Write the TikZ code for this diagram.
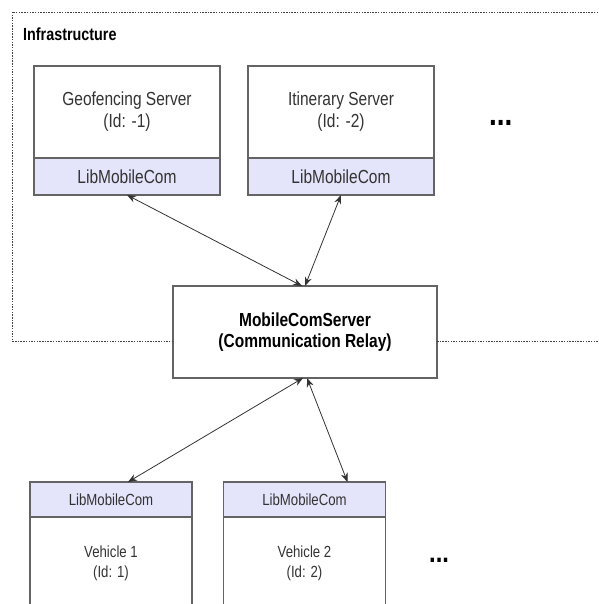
\documentclass[tikz,border=0pt]{standalone}
\usepackage{fontspec}
\setmainfont{Liberation Sans}[FakeStretch=0.82]
\usetikzlibrary{positioning,arrows.meta}
\definecolor{libfill}{RGB}{228,228,250}
\definecolor{boxline}{RGB}{100,100,100}

\begin{document}
\begin{tikzpicture}[x=1pt,y=-1pt,
  srvbody/.style={draw=boxline, line width=1.1pt, fill=white, outer sep=0pt, inner sep=0pt, minimum width=186pt, minimum height=92pt, align=center, text=black!80, font=\fontsize{18.9}{22}\selectfont},
  srvlib/.style={draw=boxline, line width=1.1pt, fill=libfill, outer sep=0pt, inner sep=0pt, minimum width=186pt, minimum height=37pt, text=black!80, font=\fontsize{18.9}{22}\selectfont},
  vehbody/.style={draw=boxline, line width=1.1pt, fill=white, outer sep=0pt, inner sep=0pt, minimum width=162pt, minimum height=92pt, align=center, text=black!80, font=\fontsize{16.1}{20}\selectfont},
  vehlib/.style={draw=boxline, line width=1.1pt, fill=libfill, outer sep=0pt, inner sep=0pt, minimum width=162pt, minimum height=35pt, text=black!80, font=\fontsize{16.1}{20}\selectfont},
  relay/.style={draw=boxline, line width=1.1pt, fill=white, outer sep=0pt, inner sep=0pt, minimum width=264pt, minimum height=92pt, align=center, font=\fontsize{18.9}{21}\bfseries\selectfont},
  link/.style={{Stealth[length=9pt,width=7pt]}-{Stealth[length=9pt,width=7pt]}, line width=0.8pt, draw=black!80},
  frame/.style={draw=black!75, line width=0.9pt, dash pattern=on 1.5pt off 1.2pt},
  more/.style={inner sep=0pt, anchor=base west}
]
\useasboundingbox (0,0) rectangle (598,604);
\clip (0,0) rectangle (598,604);

\node[relay] (srv) at (305,332) {MobileComServer\\(Communication Relay)};

\draw[frame] (598,12) -- (12,12) |- ([yshift=-9pt]srv.west);
\draw[frame] ([yshift=-9pt]srv.east) -- ++(170,0);

\node[anchor=base west, inner sep=0pt, font=\fontsize{17.5}{17.5}\bfseries\selectfont] (infra) at (23,41) {Infrastructure};

\node[srvbody] (geo) at (127,112) {Geofencing Server\\(Id: -1)};
\node[srvlib, below=0pt of geo] (geolib) {LibMobileCom};
\node[srvbody] (itin) at (341,112) {Itinerary Server\\(Id: -2)};
\node[srvlib, below=0pt of itin] (itinlib) {LibMobileCom};
\node[more, font=\fontsize{34}{34}\bfseries\selectfont] (moresrv) at (489,126) {...};

\node[vehlib] (v1lib) at (111,499.5) {LibMobileCom};
\node[vehbody, below=0pt of v1lib] (v1) {Vehicle 1\\(Id: 1)};
\node[vehlib] (v2lib) at (304.5,499.5) {LibMobileCom};
\node[vehbody, below=0pt of v2lib] (v2) {Vehicle 2\\(Id: 2)};
\node[more, font=\fontsize{29}{29}\bfseries\selectfont] (moreveh) at (429,562) {...};

\draw[link] (geolib.south) -- ([xshift=-3pt]srv.north);
\draw[link] (itinlib.south) -- (srv.north);
\draw[link] ([xshift=-2pt]srv.south) -- ([xshift=17pt]v1lib.north);
\draw[link] ([xshift=2pt]srv.south) -- ([xshift=43pt]v2lib.north);
\end{tikzpicture}
\end{document}
